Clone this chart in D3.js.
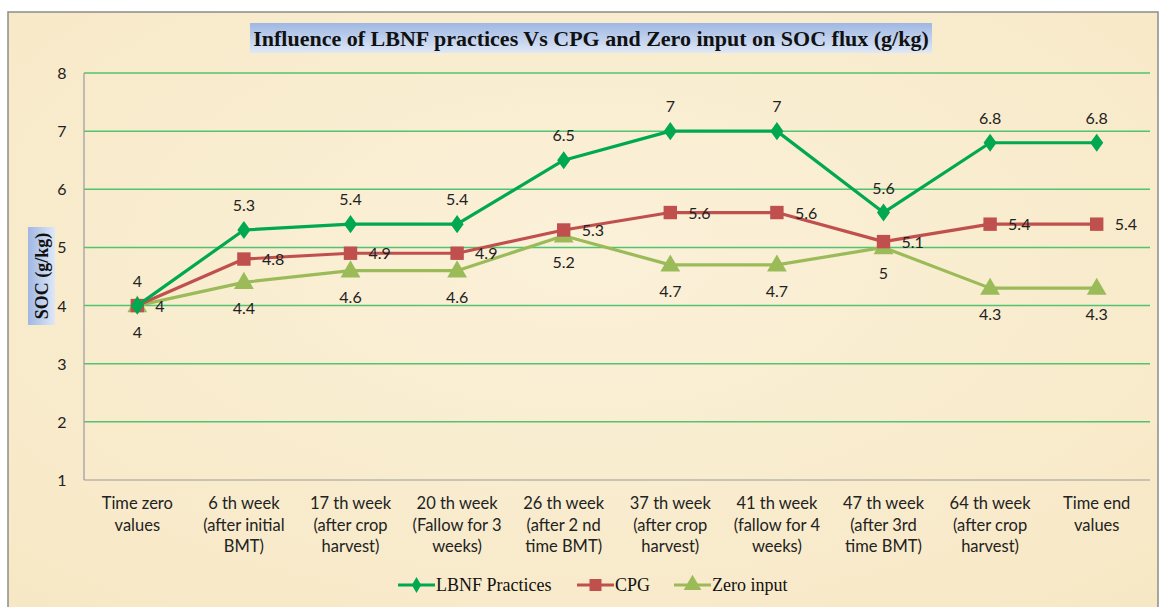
<!DOCTYPE html>
<html lang="en">
<head>
<meta charset="utf-8">
<title>Influence of LBNF practices Vs CPG and Zero input on SOC flux</title>
<style>
  body { margin: 0; background: #fff; }
  .tick-label { font-family: Lato, "Open Sans", sans-serif; font-size: 16px; fill: #222; }
  .cat-label { font-family: Lato, "Open Sans", sans-serif; font-size: 16.5px; fill: #222; text-anchor: middle; }
  .data-label { font-family: Lato, "Open Sans", sans-serif; font-size: 16px; fill: #222; }
  .title { font-family: "Liberation Serif", serif; font-weight: bold; font-size: 22px; fill: #111; text-anchor: middle; }
  .legend-text { font-family: "Liberation Serif", serif; font-size: 18px; fill: #111; }
</style>
</head>
<body>
<div id="chart"></div>
<script src="https://cdn.jsdelivr.net/npm/d3@7"></script>
<script>
var categories = [
  ["Time zero", "values"],
  ["6 th week", "(after initial", "BMT)"],
  ["17 th week", "(after crop", "harvest)"],
  ["20 th week", "(Fallow for 3", "weeks)"],
  ["26 th week", "(after 2 nd", "time BMT)"],
  ["37 th week", "(after crop", "harvest)"],
  ["41 th week", "(fallow for 4", "weeks)"],
  ["47 th week", "(after 3rd", "time BMT)"],
  ["64 th week", "(after crop", "harvest)"],
  ["Time end", "values"]
];
var lbnf = [4, 5.3, 5.4, 5.4, 6.5, 7, 7, 5.6, 6.8, 6.8];
var cpg = [4, 4.8, 4.9, 4.9, 5.3, 5.6, 5.6, 5.1, 5.4, 5.4];
var zero = [4, 4.4, 4.6, 4.6, 5.2, 4.7, 4.7, 5, 4.3, 4.3];
var yTicks = [1, 2, 3, 4, 5, 6, 7, 8];
var seriesNames = ["LBNF Practices", "CPG", "Zero input"];

var W = 1161, H = 607;
var plot = {left: 84, right: 1150, top: 73, bottom: 480};

var svg = d3.select("#chart").append("svg")
  .attr("width", W).attr("height", H);

var defs = svg.append("defs");
var bg = defs.append("radialGradient").attr("id", "bg").attr("cx", "50%").attr("cy", "40%").attr("r", "75%");
bg.append("stop").attr("offset", "0%").attr("stop-color", "#fbf1d9");
bg.append("stop").attr("offset", "100%").attr("stop-color", "#f7e8c5");
var tg = defs.append("linearGradient").attr("id", "titlebg").attr("x1", 0).attr("y1", 0).attr("x2", 0).attr("y2", 1);
tg.append("stop").attr("offset", "0%").attr("stop-color", "#9fb7e3");
tg.append("stop").attr("offset", "100%").attr("stop-color", "#dfe8f6");
var ag = defs.append("linearGradient").attr("id", "axisbg").attr("x1", 0).attr("y1", 0).attr("x2", 1).attr("y2", 0);
ag.append("stop").attr("offset", "0%").attr("stop-color", "#9fb7e3");
ag.append("stop").attr("offset", "100%").attr("stop-color", "#dfe8f6");

// frame
svg.append("rect").attr("x", 8).attr("y", 12).attr("width", 1150).attr("height", 610)
  .attr("fill", "url(#bg)").attr("stroke", "#8c8c8c").attr("stroke-width", 1.5);

var x = d3.scaleBand().domain(d3.range(categories.length)).range([plot.left, plot.right]);
var y = d3.scaleLinear().domain([1, 8]).range([plot.bottom, plot.top]);
var cx = function(i) { return x(i) + x.bandwidth() / 2; };

// gridlines
svg.append("g").selectAll("line").data(yTicks.filter(function(t) { return t > 1; })).enter().append("line")
  .attr("x1", plot.left).attr("x2", plot.right)
  .attr("y1", function(d) { return y(d); }).attr("y2", function(d) { return y(d); })
  .attr("stroke", "#52c46f").attr("stroke-width", 1.5);

// axes lines
svg.append("line").attr("x1", plot.left).attr("x2", plot.left).attr("y1", plot.top).attr("y2", plot.bottom)
  .attr("stroke", "#9a9a9a").attr("stroke-width", 1.2);
svg.append("line").attr("x1", plot.left).attr("x2", plot.right).attr("y1", plot.bottom).attr("y2", plot.bottom)
  .attr("stroke", "#9a9a9a").attr("stroke-width", 1.2);

// y tick labels
svg.append("g").selectAll("text").data(yTicks).enter().append("text")
  .attr("class", "tick-label")
  .attr("x", 62).attr("y", function(d) { return y(d) + 6; })
  .attr("text-anchor", "middle")
  .text(function(d) { return d; });

// category labels
var cat = svg.append("g").selectAll("text").data(categories).enter().append("text")
  .attr("class", "cat-label")
  .attr("x", function(d, i) { return cx(i); })
  .attr("y", 509);
cat.selectAll("tspan").data(function(d) { return d; }).enter().append("tspan")
  .attr("x", function() { return d3.select(this.parentNode).attr("x"); })
  .attr("dy", function(d, i) { return i === 0 ? 0 : 21.5; })
  .text(function(d) { return d; });

// title
svg.append("rect").attr("x", 250).attr("y", 23).attr("width", 682).attr("height", 30).attr("fill", "url(#titlebg)");
svg.append("text").attr("class", "title").attr("x", 591).attr("y", 46)
  .text("Influence of LBNF practices Vs CPG and Zero input on SOC flux (g/kg)");

// y axis title
svg.append("rect").attr("x", 28).attr("y", 227).attr("width", 27).attr("height", 98).attr("fill", "url(#axisbg)");
svg.append("text").attr("class", "title").style("font-size", "18px")
  .attr("transform", "translate(48,276) rotate(-90)")
  .text("SOC (g/kg)");

var colors = ["#00a84f", "#c0504d", "#9bbb59"];
var shapes = [d3.symbolDiamond, d3.symbolSquare, d3.symbolTriangle];
var sizes = [95, 180, 170];
var data = [lbnf, cpg, zero];

var line = d3.line().x(function(d, i) { return cx(i); }).y(function(d) { return y(d); });

// draw back-to-front: zero, cpg, lbnf
[2, 1, 0].forEach(function(s) {
  svg.append("path").datum(data[s]).attr("d", line)
    .attr("fill", "none").attr("stroke", colors[s]).attr("stroke-width", 3.2)
    .attr("stroke-linejoin", "round");
  svg.append("g").selectAll("path").data(data[s]).enter().append("path")
    .attr("d", d3.symbol().type(shapes[s]).size(sizes[s]))
    .attr("transform", function(d, i) {
      var dy = s === 2 ? 1 : 0;
      return "translate(" + cx(i) + "," + (y(d) + dy) + ")" + (s === 0 ? " scale(1.25,1)" : "");
    })
    .attr("fill", colors[s]);
});

// data labels
svg.append("g").selectAll("text").data(lbnf).enter().append("text")
  .attr("class", "data-label").attr("text-anchor", "middle")
  .attr("x", function(d, i) { return cx(i); })
  .attr("y", function(d) { return y(d) - 19; })
  .text(function(d) { return d; });
svg.append("g").selectAll("text").data(cpg).enter().append("text")
  .attr("class", "data-label").attr("text-anchor", "start")
  .attr("x", function(d, i) { return cx(i) + 18; })
  .attr("y", function(d) { return y(d) + 6; })
  .text(function(d) { return d; });
svg.append("g").selectAll("text").data(zero).enter().append("text")
  .attr("class", "data-label").attr("text-anchor", "middle")
  .attr("x", function(d, i) { return cx(i); })
  .attr("y", function(d) { return y(d) + 32; })
  .text(function(d) { return d; });

// legend
var legendX = [398, 577, 674];
var legend = svg.append("g").selectAll("g").data(seriesNames).enter().append("g")
  .attr("transform", function(d, i) { return "translate(" + legendX[i] + ",585)"; });
legend.append("line").attr("x1", 0).attr("x2", 37).attr("y1", 0).attr("y2", 0)
  .attr("stroke", function(d, i) { return colors[i]; }).attr("stroke-width", 3.2);
legend.append("path")
  .attr("d", function(d, i) { return d3.symbol().type(shapes[i]).size(sizes[i] * 0.8)(); })
  .attr("transform", "translate(18.5,0)")
  .attr("fill", function(d, i) { return colors[i]; });
legend.append("text").attr("class", "legend-text").attr("x", 38).attr("y", 6)
  .text(function(d) { return d; });
</script>
</body>
</html>
